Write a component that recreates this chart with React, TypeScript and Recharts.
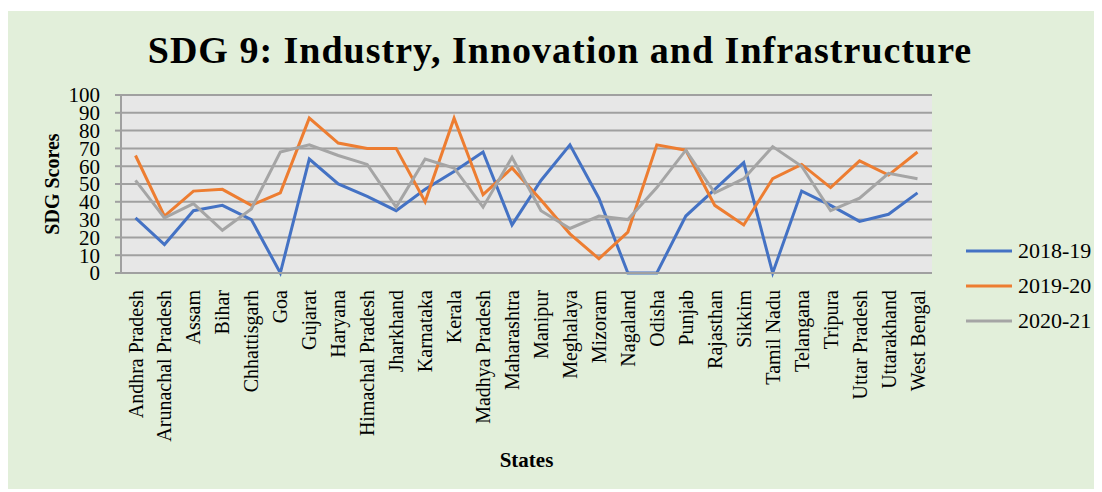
import React from 'react';
import { LineChart, Line, XAxis, YAxis, CartesianGrid, Legend } from 'recharts';

const states = [
  'Andhra Pradesh', 'Arunachal Pradesh', 'Assam', 'Bihar', 'Chhattisgarh', 'Goa', 'Gujarat',
  'Haryana', 'Himachal Pradesh', 'Jharkhand', 'Karnataka', 'Kerala', 'Madhya Pradesh',
  'Maharashtra', 'Manipur', 'Meghalaya', 'Mizoram', 'Nagaland', 'Odisha', 'Punjab',
  'Rajasthan', 'Sikkim', 'Tamil Nadu', 'Telangana', 'Tripura', 'Uttar Pradesh',
  'Uttarakhand', 'West Bengal',
];
const scores2018 = [31, 16, 35, 38, 30, 0, 64, 50, 43, 35, 47, 57, 68, 27, 52, 72, 42, 0, 0, 32, 47, 62, 0, 46, 38, 29, 33, 45];
const scores2019 = [66, 32, 46, 47, 38, 45, 87, 73, 70, 70, 40, 87, 44, 59, 41, 22, 8, 23, 72, 69, 38, 27, 53, 61, 48, 63, 55, 68];
const scores2020 = [52, 31, 39, 24, 36, 68, 72, 66, 61, 37, 64, 59, 37, 65, 35, 25, 32, 30, 48, 69, 45, 53, 71, 60, 35, 42, 56, 53];
const yTicks = [0, 10, 20, 30, 40, 50, 60, 70, 80, 90, 100];

const data = states.map((s, i) => ({
  state: s,
  '2018-19': scores2018[i],
  '2019-20': scores2019[i],
  '2020-21': scores2020[i],
}));

const serif = '"Liberation Serif", "Times New Roman", serif';

function StateTick(props: any) {
  const { x, y, payload } = props;
  return (
    <text
      transform={`translate(${x + 7},${y + 9}) rotate(-90)`}
      textAnchor="end"
      fontFamily={serif}
      fontSize={20}
      fill="#000"
    >
      {payload.value}
    </text>
  );
}

function LegendBox(props: any) {
  const items = props.payload || [];
  return (
    <div style={{ fontFamily: serif, fontSize: 22, color: '#000' }}>
      {items.map((it: any) => (
        <div key={it.value} style={{ display: 'flex', alignItems: 'center', height: 35 }}>
          <svg width={46} height={6} style={{ marginRight: 6 }}>
            <line x1={0} y1={3} x2={46} y2={3} stroke={it.color} strokeWidth={3} />
          </svg>
          <span>{it.value}</span>
        </div>
      ))}
    </div>
  );
}

export default function App() {
  return (
    <div style={{ position: 'relative', top: 3, width: 1094, height: 481, background: '#e2efda' }}>
      <div
        style={{
          position: 'absolute', left: 0, top: 20, width: 1104, textAlign: 'center',
          fontFamily: serif, fontWeight: 'bold', fontSize: 38, letterSpacing: 1,
          lineHeight: '38px', color: '#000',
        }}
      >
        SDG 9: Industry, Innovation and Infrastructure
      </div>
      <LineChart width={1094} height={481} data={data} margin={{ top: 84, right: 170, bottom: 0, left: 43 }}>
        <CartesianGrid vertical={false} stroke="#a0a0a0" strokeWidth={2} fill="#e7e7e7" />
        <XAxis
          dataKey="state"
          interval={0}
          height={219}
          padding={{ left: 14.5, right: 14.5 }}
          tickLine={false}
          axisLine={{ stroke: '#a0a0a0', strokeWidth: 2 }}
          tick={<StateTick />}
          label={{
            value: 'States', position: 'insideBottom', offset: 25,
            style: { fontFamily: serif, fontWeight: 'bold', fontSize: 21, fill: '#000' },
          }}
        />
        <YAxis
          width={70}
          domain={[0, 100]}
          ticks={yTicks}
          interval={0}
          tickSize={6}
          tickMargin={15}
          tickLine={{ stroke: '#a0a0a0', strokeWidth: 2 }}
          axisLine={{ stroke: '#a0a0a0', strokeWidth: 2 }}
          tick={{ fontFamily: serif, fontSize: 21, fill: '#000' }}
          label={{
            value: 'SDG Scores', angle: -90, position: 'insideLeft', offset: 1,
            style: { textAnchor: 'middle', fontFamily: serif, fontWeight: 'bold', fontSize: 20, fill: '#000' },
          }}
        />
        <Legend
          layout="vertical"
          align="center"
          verticalAlign="middle"
          wrapperStyle={{ left: 958, top: 222, width: 136 }}
          content={<LegendBox />}
        />
        <Line type="linear" dataKey="2018-19" stroke="#4472c4" strokeWidth={3} dot={false} isAnimationActive={false} />
        <Line type="linear" dataKey="2019-20" stroke="#ed7d31" strokeWidth={3} dot={false} isAnimationActive={false} />
        <Line type="linear" dataKey="2020-21" stroke="#a5a5a5" strokeWidth={3} dot={false} isAnimationActive={false} />
      </LineChart>
    </div>
  );
}
